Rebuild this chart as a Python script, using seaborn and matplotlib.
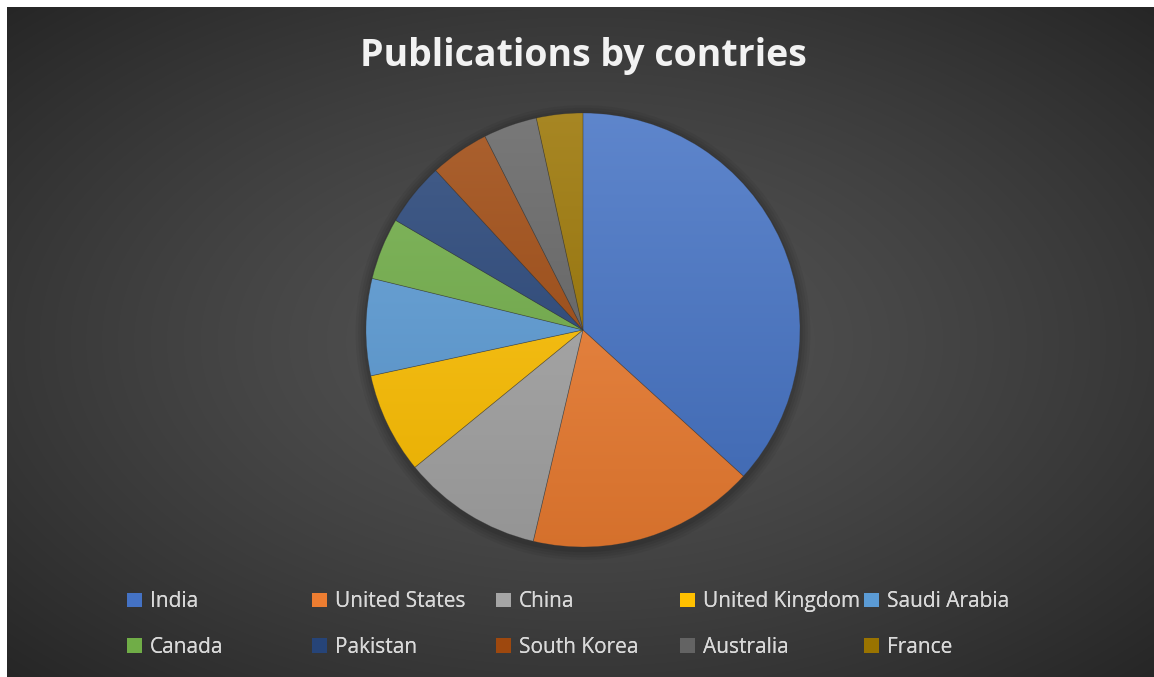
import numpy as np
import matplotlib
matplotlib.use("Agg")
import matplotlib.pyplot as plt
import matplotlib.colors as mcolors
import seaborn as sns
from matplotlib.patches import Patch, Circle

countries = ["India", "United States", "China", "United Kingdom", "Saudi Arabia",
             "Canada", "Pakistan", "South Korea", "Australia", "France"]
shares = [36.7, 16.9, 10.4, 7.5, 7.2, 4.6, 4.7, 4.4, 4.0, 3.45]
colors = ["#4472C4", "#ED7D31", "#A5A5A5", "#FFC000", "#5B9BD5",
          "#70AD47", "#264478", "#9E480E", "#636363", "#997300"]
title = "Publications by contries"

sns.set_theme(style="dark")
plt.rcParams['font.family'] = ['Open Sans', 'DejaVu Sans']
palette = sns.color_palette(colors)

W, H = 1154, 677
fig = plt.figure(figsize=(W / 100, H / 100), dpi=100, facecolor="white")

# background radial gradient (chart area starts ~7px from left/top)
bg = fig.add_axes([7 / W, 0, (W - 7) / W, (H - 7) / H])
yy, xx = np.mgrid[0:1:400j, 0:1:700j]
r = np.sqrt(((xx - 0.5) / 0.5) ** 2 + ((yy - 0.5) / 0.5) ** 2) / np.sqrt(2)
val = 0.33 - 0.18 * r ** 1.3
img = np.dstack([val, val, val])
bg.imshow(img, aspect="auto", extent=[0, 1, 0, 1], interpolation="bilinear")
bg.set_axis_off()

# pie
cx, cy, rad = 583, 330, 217
ax = fig.add_axes([(cx - rad) / W, (H - cy - rad) / H, 2 * rad / W, 2 * rad / H])
ax.set_facecolor("none")

# soft shadow behind the pie
for k, a in enumerate([0.05, 0.05, 0.06, 0.08]):
    ax.add_patch(Circle((0, -0.012), 1.0 + 0.012 * (4 - k), facecolor="black",
                        edgecolor="none", alpha=a, zorder=0, clip_on=False))

wedges, _ = ax.pie(shares, colors=palette, startangle=90, counterclock=False,
                   radius=1.0,
                   wedgeprops=dict(edgecolor=(0.2, 0.2, 0.2, 0.35), linewidth=0.5))

# vertical light-to-dark gradient inside each wedge
t = np.linspace(0, 1, 256)[:, None]  # 0 at top, 1 at bottom
for w, c in zip(wedges, palette):
    base = np.array(mcolors.to_rgb(c))
    top = base + (1 - base) * 0.14
    bot = base * 0.90
    grad = top[None, None, :] * (1 - t[..., None]) + bot[None, None, :] * t[..., None]
    grad = np.repeat(grad, 4, axis=1)
    im = ax.imshow(grad, extent=[-1, 1, -1, 1], origin="upper", aspect="auto",
                   interpolation="bilinear", zorder=w.get_zorder() + 0.1)
    im.set_clip_path(w)
    w.set_facecolor("none")
    w.set_zorder(w.get_zorder() + 0.2)

ax.set_xlim(-1.0, 1.0)
ax.set_ylim(-1.0, 1.0)
ax.set_aspect("equal")
ax.set_axis_off()

# title
fig.text(583 / W, 1 - 56 / H, title, ha="center", va="center",
         fontsize=27, fontweight="bold", color="#F2F2F2", fontfamily="Open Sans")

# legend: 5 columns, 2 rows, equal spacing
col_x = [131, 316, 500, 684, 868]
for i, x in enumerate(col_x):
    hs = [Patch(facecolor=palette[i], edgecolor="none"),
          Patch(facecolor=palette[i + 5], edgecolor="none")]
    leg = fig.legend(hs, [countries[i], countries[i + 5]],
                     loc="upper left",
                     bbox_to_anchor=((x - 10) / W, 1 - 585 / H),
                     frameon=False, fontsize=15, labelcolor="#D9D9D9",
                     handlelength=0.72, handleheight=0.72, handletextpad=0.35,
                     labelspacing=1.17, borderpad=0.3, borderaxespad=0)
    fig.add_artist(leg)

fig.savefig("out.png", dpi=100, facecolor="white")
